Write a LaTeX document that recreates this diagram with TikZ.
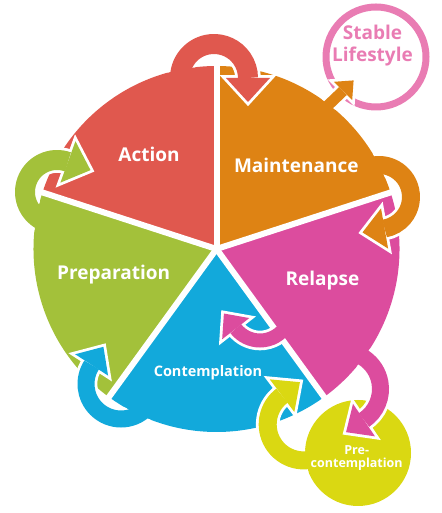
\documentclass[tikz,border=0pt]{standalone}
\usepackage{fontspec}
\setmainfont{Open Sans}
\usetikzlibrary{calc}

\definecolor{actioncol}{HTML}{E0584E}
\definecolor{maintcol}{HTML}{DE8314}
\definecolor{relapsecol}{HTML}{DC4C9E}
\definecolor{contcol}{HTML}{12A9DB}
\definecolor{prepcol}{HTML}{A3C13A}
\definecolor{precol}{HTML}{DAD812}
\definecolor{stablecol}{HTML}{E97CB3}

% the five slices of the wheel and the small disc
\def\actionsector{(O) -- ++(90:183) arc[start angle=90,end angle=162,radius=183] -- cycle}
\def\prepsector{(O) -- ++(162:183) arc[start angle=162,end angle=234,radius=183] -- cycle}
\def\contsector{(O) -- ++(234:183) arc[start angle=234,end angle=306,radius=183] -- cycle}
\def\relapsesector{(O) -- ++(306:183) arc[start angle=306,end angle=378,radius=183] -- cycle}
\def\maintsector{(O) -- ++(18:183) arc[start angle=18,end angle=90,radius=183] -- cycle}
\def\precircle{(358,60) circle[radius=53]}

% bent arrow: colour, centre, radius, from, to, width, own region
\newcommand{\bentarrow}[7]{%
  \begin{scope}[even odd rule]
    \clip (0,0) rectangle (441,513) #7;
    \draw[white, line width=#6pt+5.6pt] ($#2+(#4:#3)$) arc[start angle=#4,end angle=#5,radius=#3];
  \end{scope}
  \coordinate (hb) at ($#2+(#5:#3)$);
  \coordinate (hl) at ($(hb)+(#5:0.8*#6+6)$);
  \coordinate (hr) at ($(hb)+(#5+180:0.8*#6+6)$);
  \coordinate (ht) at ($(hb)+(#5-90:0.8*#6+8)$);
  \draw[white, line width=5.6pt, line join=miter] (hl) -- (ht) -- (hr) -- cycle;
  \draw[#1, line width=#6pt] ($#2+(#4:#3)$) arc[start angle=#4,end angle=#5,radius=#3];
  \fill[#1] (hl) -- (ht) -- (hr) -- cycle;
}

\begin{document}
\begin{tikzpicture}[x=1pt,y=1pt,
  stage/.style={text=white, font=\fontsize{19}{22}\selectfont\bfseries, inner sep=0pt},
  sep/.style={white, line width=6pt}]
\useasboundingbox (0,0) rectangle (441,513);
\coordinate (O) at (216.5,264);

% wheel
\fill[actioncol] \actionsector;
\fill[prepcol] \prepsector;
\fill[contcol] \contsector;
\fill[relapsecol] \relapsesector;
\fill[maintcol] \maintsector;
\foreach \a in {18,90,162,234,306}
  \draw[sep] (O) -- ++(\a:186);

% pre-contemplation disc and stable lifestyle ring
\fill[precol] \precircle;
\node[draw=stablecol, line width=7pt, circle, minimum size=100pt, inner sep=0pt] (stable) at (376,456) {};

% arrows between the stages
\bentarrow{actioncol}{(214,435)}{34}{185}{0}{20}{\actionsector}
\bentarrow{prepcol}{(57,321)}{32}{250}{70}{20}{\prepsector}
\bentarrow{contcol}{(121,129)}{35}{315}{147}{17}{\contsector}
\bentarrow{precol}{(303.7,88.6)}{36}{295}{127}{18}{\precircle}
\bentarrow{relapsecol}{(343,124)}{37.5}{100}{-56}{17}{\relapsesector}
\bentarrow{relapsecol}{(260,203.3)}{30.8}{-30}{-142}{14}{\relapsesector}
\bentarrow{maintcol}{(379,316)}{32}{110}{-80}{18}{\maintsector}

% out to a stable lifestyle
\coordinate (lifestart) at (320,400);
\coordinate (lifeend) at (343,422);
\begin{scope}[even odd rule]
  \clip (0,0) rectangle (441,513) \maintsector;
  \draw[white, line width=16.6pt] (lifestart) -- (lifeend);
\end{scope}
\draw[white, line width=5.6pt, line join=miter] ($(lifeend)+(135:13)$) -- ($(lifeend)+(45:15)$) -- ($(lifeend)+(-45:13)$) -- cycle;
\draw[maintcol, line width=11pt] (lifestart) -- (lifeend);
\fill[maintcol] ($(lifeend)+(135:13)$) -- ($(lifeend)+(45:15)$) -- ($(lifeend)+(-45:13)$) -- cycle;

% labels
\node[stage, anchor=base] (action) at (149,351.3) {Action};
\node[stage, anchor=base] (maintenance) at (296.3,340) {Maintenance};
\node[stage, anchor=base] (preparation) at (113.7,233) {Preparation};
\node[stage, anchor=base] (relapse) at (322.5,227.3) {Relapse};
\node[stage, anchor=base, font=\fontsize{14.5}{17}\selectfont\bfseries] (contemplation) at (208,136.3) {Contemplation};
\node[stage, align=center, font=\fontsize{12.5}{13}\selectfont\bfseries] (precontemplation) at (356.7,54.5) {Pre-\\contemplation};
\node[stage, align=center, text=stablecol, font=\fontsize{19}{22.4}\selectfont\bfseries] (stabletext) at (372.5,467.4) {Stable\\Lifestyle};
\end{tikzpicture}
\end{document}
